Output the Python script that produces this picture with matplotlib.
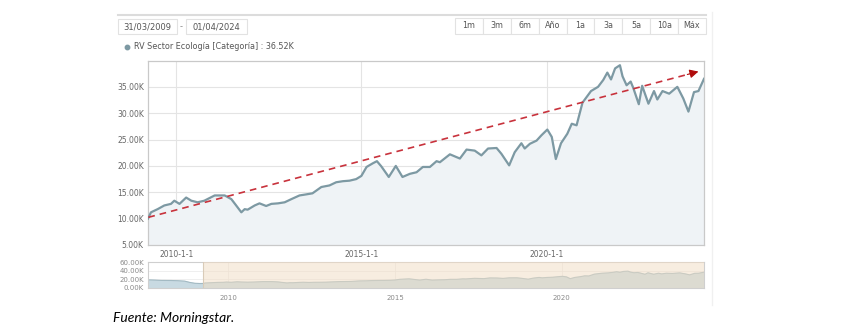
import matplotlib.pyplot as plt
from matplotlib.patches import Rectangle
from matplotlib.lines import Line2D

# RV Sector Ecologia [Categoria], growth of 10K, dates as decimal years
dates = [2009.24, 2009.32, 2009.50, 2009.68, 2009.86, 2009.95, 2010.09, 2010.27,
         2010.41, 2010.58, 2010.76, 2011.04, 2011.31, 2011.49, 2011.62, 2011.76,
         2011.85, 2011.93, 2012.12, 2012.25, 2012.43, 2012.57, 2012.75, 2012.93,
         2013.11, 2013.33, 2013.51, 2013.68, 2013.92, 2014.14, 2014.32, 2014.50,
         2014.68, 2014.86, 2015.00, 2015.14, 2015.31, 2015.42, 2015.54, 2015.74,
         2015.93, 2016.11, 2016.31, 2016.49, 2016.66, 2016.85, 2017.03, 2017.12,
         2017.39, 2017.66, 2017.84, 2018.06, 2018.24, 2018.42, 2018.65, 2018.78,
         2018.99, 2019.14, 2019.32, 2019.41, 2019.55, 2019.73, 2019.86, 2020.02,
         2020.14, 2020.25, 2020.39, 2020.56, 2020.68, 2020.81, 2020.97, 2021.20,
         2021.39, 2021.53, 2021.64, 2021.74, 2021.85, 2021.98, 2022.05, 2022.16,
         2022.27, 2022.34, 2022.49, 2022.58, 2022.75, 2022.90, 2022.99, 2023.13,
         2023.31, 2023.53, 2023.69, 2023.83, 2023.98, 2024.10, 2024.25]
values = [10.0, 11.2, 11.8, 12.5, 12.8, 13.4, 12.8, 14.0,
          13.4, 13.1, 13.4, 14.4, 14.4, 13.7, 12.5, 11.2,
          11.8, 11.7, 12.5, 12.9, 12.4, 12.8, 12.9, 13.1,
          13.7, 14.4, 14.6, 14.8, 16.0, 16.3, 16.9, 17.1,
          17.2, 17.5, 18.1, 19.8, 20.5, 20.9, 19.9, 17.9,
          20.0, 17.9, 18.5, 18.8, 19.8, 19.8, 20.9, 20.7,
          22.2, 21.4, 23.1, 22.9, 22.0, 23.3, 23.4, 22.3,
          20.1, 22.6, 24.3, 23.3, 24.2, 24.8, 25.8, 26.9,
          25.5, 21.3, 24.3, 26.1, 28.0, 27.7, 32.0, 34.2,
          35.0, 36.3, 37.7, 36.4, 38.5, 39.1, 37.0, 35.3,
          36.0, 34.8, 31.7, 35.2, 31.8, 34.2, 32.6, 34.2,
          33.7, 35.0, 32.8, 30.3, 34.0, 34.2, 36.52]

# history before the selected range, shown only in the navigator
early_dates = [2007.62, 2007.80, 2008.00, 2008.30, 2008.50, 2008.70, 2008.85, 2009.00, 2009.15]
early_values = [18.5, 18.0, 17.2, 17.0, 16.5, 15.5, 12.5, 10.5, 9.9]

trend_start = (2009.25, 10.25)
trend_end = (2024.10, 37.9)

y_ticks = [5, 10, 15, 20, 25, 30, 35]
x_ticks = [2010, 2015, 2020]
x_tick_labels = ["2010-1-1", "2015-1-1", "2020-1-1"]
nav_y_ticks = [0, 20, 40, 60]
nav_x_labels = ["2010", "2015", "2020"]
range_buttons = ["1m", "3m", "6m", "Año", "1a", "3a", "5a", "10a", "Máx"]
date_from, date_to = "31/03/2009", "01/04/2024"
series_name = "RV Sector Ecología [Categoría]"

W, H = 852, 331
LINE = "#7d99a3"
TXT = "#666666"
GRID = "#e4e4e4"
plt.rcParams["font.family"] = ["DejaVu Sans"]

fig = plt.figure(figsize=(W / 100, H / 100), dpi=100)


def fx(px):
    return px / W


def fy(py):
    return 1 - py / H


# main chart
ax = fig.add_axes([fx(148), fy(245), fx(704 - 148), (245 - 61) / H])
ax.fill_between(dates, values, 0, color="#eff3f6", zorder=1)
ax.plot(dates, values, color=LINE, lw=1.6, zorder=3, solid_joinstyle="round")
ax.set_xlim(2009.24, 2024.25)
ax.set_ylim(5, 39.9)
ax.set_yticks(y_ticks)
ax.set_yticklabels([f"{v:.2f}K" for v in y_ticks])
ax.set_xticks(x_ticks)
ax.set_xticklabels(x_tick_labels)
ax.grid(True, color=GRID, lw=0.8, zorder=0)
ax.set_axisbelow(True)
ax.tick_params(length=0, labelsize=5.5, labelcolor=TXT)
ax.tick_params(axis="y", pad=3)
ax.tick_params(axis="x", pad=3.5)
for s in ax.spines.values():
    s.set_color("#c9c9c9")
    s.set_linewidth(0.9)

# dashed trend arrow
ax.plot([trend_start[0], trend_end[0] - 0.15], [trend_start[1], trend_end[1] - 0.28],
        color="#c8323c", lw=1.2, ls=(0, (4, 3)), zorder=4)
slope = (trend_end[1] - trend_start[1]) / (trend_end[0] - trend_start[0])
ax.annotate("", xy=trend_end, xytext=(trend_end[0] - 0.3, trend_end[1] - 0.3 * slope),
            arrowprops=dict(arrowstyle="-|>", color="#b00c0c", lw=0.8,
                            mutation_scale=13, shrinkA=0, shrinkB=0), zorder=5)

# navigator
nav = fig.add_axes([fx(148), fy(287.7), fx(704 - 148), (287.7 - 262.3) / H])
nav_dates = early_dates + dates
nav_values = early_values + values
nav.fill_between(nav_dates, nav_values, 0, color="#c8dae2", zorder=1)
nav.plot(nav_dates, nav_values, color="#a3bac3", lw=0.8, zorder=2)
nav.axvspan(dates[0], 2024.26, color="#f1dcc2", alpha=0.5, lw=0, zorder=3)
nav.axvline(dates[0], color="#d9cbb8", lw=0.8, zorder=4)
nav.set_xlim(2007.6, 2024.26)
nav.set_ylim(0, 60)
nav.set_yticks(nav_y_ticks)
nav.set_yticklabels([f"{v:.2f}K" for v in nav_y_ticks])
nav.set_xticks(x_ticks)
nav.set_xticklabels(nav_x_labels)
nav.grid(True, color="#ececec", lw=0.6, zorder=0)
nav.set_axisbelow(True)
nav.tick_params(length=0, labelsize=5, labelcolor="#8a8a8a")
nav.tick_params(axis="y", pad=3)
nav.tick_params(axis="x", pad=5)
for s in nav.spines.values():
    s.set_color("#cfcfcf")
    s.set_linewidth(0.8)

# toolbar: top rule, date range boxes, range buttons
fig.add_artist(Line2D([fx(118), fx(706)], [fy(15), fy(15)], color="#dcdcdc", lw=1.5))


def box(x0, x1, y0, y1, label, size=6):
    fig.add_artist(Rectangle((fx(x0), fy(y1)), fx(x1 - x0), (y1 - y0) / H,
                             facecolor="white", edgecolor="#e2e2e2", lw=0.8))
    fig.text(fx((x0 + x1) / 2), fy((y0 + y1) / 2), label, ha="center", va="center",
             fontsize=size, color="#555555")


box(118, 177, 19, 34, date_from)
fig.text(fx(181.5), fy(26.5), "-", ha="center", va="center", fontsize=6, color="#888888")
box(186, 247, 19, 34, date_to)

btn_left, btn_right = 455, 706
btn_w = (btn_right - btn_left) / len(range_buttons)
for i, lab in enumerate(range_buttons):
    box(btn_left + i * btn_w, btn_left + (i + 1) * btn_w, 18, 33.5, lab, size=5.8)

# faint right edge of the widget
fig.add_artist(Line2D([fx(712), fx(712)], [fy(12), fy(305)], color="#f0f0f0", lw=1.0))

# legend line
fig.add_artist(Line2D([fx(127)], [fy(46.5)], marker="o", markersize=3.2,
                      color=LINE, lw=0))
fig.text(fx(134), fy(46.5), f"{series_name} : {values[-1]:.2f}K",
         ha="left", va="center", fontsize=5.8, color="#555555")

fig.text(fx(113), fy(318), "Fuente: Morningstar.", ha="left", va="center",
         fontsize=10, style="italic", family="Lato", color="black")

fig.savefig("out.png", dpi=100)
